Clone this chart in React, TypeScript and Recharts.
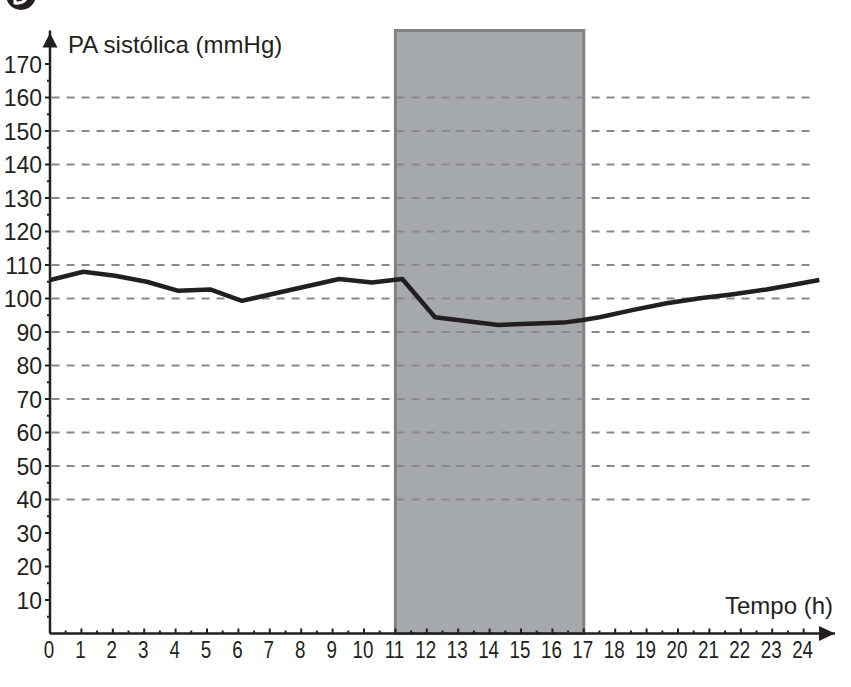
import { LineChart, Line, XAxis, YAxis, ReferenceArea, ReferenceLine } from 'recharts';

// hourly readings, systolic pressure (mmHg)
const TIME_H = [0, 1.06, 2.07, 3.08, 4.09, 5.1, 6.11, 9.21, 10.25, 11.22, 12.26, 14.28, 16.35, 16.97, 17.5, 18.58, 19.64, 20.7, 21.76, 22.82, 23.89, 24.5];
const PA_SYS = [105.5, 108.0, 106.8, 105.0, 102.3, 102.7, 99.3, 105.8, 104.8, 105.8, 94.4, 92.1, 92.8, 93.6, 94.4, 96.6, 98.6, 100.1, 101.3, 102.7, 104.5, 105.5];

const HOURS = [0, 1, 2, 3, 4, 5, 6, 7, 8, 9, 10, 11, 12, 13, 14, 15, 16, 17, 18, 19, 20, 21, 22, 23, 24];
const PA_TICKS = [10, 20, 30, 40, 50, 60, 70, 80, 90, 100, 110, 120, 130, 140, 150, 160, 170];
const GRID_LEVELS = [40, 50, 60, 70, 80, 90, 100, 110, 120, 130, 140, 150, 160];

const SHADE_START = 11;
const SHADE_END = 17;
const GRID_END = 24.3;

const INK = '#231f20';
const FONT = '"Liberation Sans", Arial, sans-serif';

const data = TIME_H.map((t, i) => ({ t, pa: PA_SYS[i] }));
const xTicks = HOURS.flatMap((h) => (h < 24 ? [h, h + 0.5] : [h]));
const yTicks = PA_TICKS.flatMap((v) => [v - 5, v]);

function XTick(props: any) {
  const { x, y, payload } = props;
  const major = Number.isInteger(payload.value);
  return (
    <g>
      <line x1={x} y1={y} x2={x} y2={y - (major ? 5 : 3)} stroke={INK} strokeWidth={2} />
      {major && (
        // the hour labels are set in a narrow face in the original
        <text
          transform={`translate(${x - 1},${y + 24.5}) scale(0.8,1)`}
          textAnchor="middle"
          fontSize={23.5}
          fontFamily={FONT}
          fill={INK}
        >
          {payload.value}
        </text>
      )}
    </g>
  );
}

function YTick(props: any) {
  const { x, y, payload } = props;
  const major = payload.value % 10 === 0;
  return (
    <g>
      <line x1={x} y1={y} x2={x - (major ? 5 : 3)} y2={y} stroke={INK} strokeWidth={2} />
      {major && (
        <text x={x - 8} y={y + 8.5} textAnchor="end" fontSize={23} fontFamily={FONT} fill={INK}>
          {payload.value}
        </text>
      )}
    </g>
  );
}

function XDecor(props: any) {
  const { x, y, width } = props.viewBox;
  const tip = x + width;
  return (
    <g>
      <polygon points={`${tip},${y} ${tip - 16},${y - 7.5} ${tip - 16},${y + 7.5}`} fill={INK} />
      <text x={tip - 2} y={y - 19.5} textAnchor="end" fontSize={24} fontFamily={FONT} fill={INK}>
        Tempo (h)
      </text>
    </g>
  );
}

function YDecor(props: any) {
  const { x, y, width } = props.viewBox;
  const ax = x + width;
  return (
    <g>
      <polygon points={`${ax},${y + 2.5} ${ax - 7.5},${y + 17} ${ax + 7.5},${y + 17}`} fill={INK} />
      <text x={ax + 18} y={y + 22} fontSize={24} fontFamily={FONT} fill={INK}>
        PA sistólica (mmHg)
      </text>
    </g>
  );
}

export default function App() {
  return (
    <div style={{ position: 'absolute', left: 0, top: 0, width: 851, height: 687, background: '#fff', overflow: 'hidden' }}>
      {/* panel badge, cropped at the top edge */}
      <svg width={44} height={14} style={{ position: 'absolute', left: 0, top: 0 }}>
        <circle cx={21} cy={-5} r={15} fill={INK} />
        <path d="M15,-4 L15,3 Q24,4 27,-3" fill="none" stroke="#fff" strokeWidth={3} />
      </svg>
      <LineChart width={851} height={687} data={data} margin={{ top: 30.5, right: 16, bottom: 0, left: 0 }}>
        <ReferenceArea
          x1={SHADE_START}
          x2={SHADE_END}
          y1={0}
          y2={180}
          fill="#a6a9ac"
          fillOpacity={1}
          stroke="#808285"
          strokeWidth={3}
        />
        {GRID_LEVELS.map((v) => (
          <ReferenceLine
            key={v}
            segment={[{ x: 0.05, y: v }, { x: GRID_END, y: v }]}
            stroke="#88898c"
            strokeWidth={2}
            strokeDasharray="8 7"
          />
        ))}
        <XAxis
          type="number"
          dataKey="t"
          domain={[0, 25]}
          ticks={xTicks}
          interval={0}
          height={53.5}
          tickSize={0}
          tickMargin={0}
          tick={XTick}
          axisLine={{ stroke: INK, strokeWidth: 2.5 }}
          allowDataOverflow
          label={XDecor}
        />
        <YAxis
          type="number"
          domain={[0, 180]}
          ticks={yTicks}
          interval={0}
          width={50}
          tickSize={0}
          tickMargin={0}
          tick={YTick}
          axisLine={{ stroke: INK, strokeWidth: 2.5 }}
          allowDataOverflow
          label={YDecor}
        />
        <Line
          type="linear"
          dataKey="pa"
          stroke={INK}
          strokeWidth={4.5}
          strokeLinejoin="round"
          dot={false}
          isAnimationActive={false}
        />
      </LineChart>
    </div>
  );
}
